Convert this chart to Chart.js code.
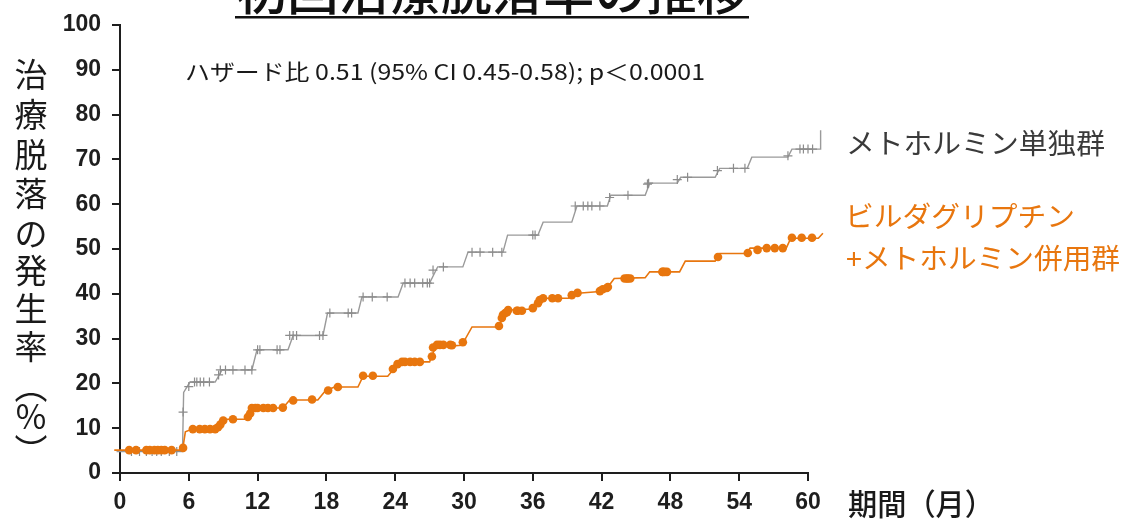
<!DOCTYPE html>
<html lang="ja">
<head>
<meta charset="utf-8">
<script src="https://cdn.jsdelivr.net/npm/chart.js@4.4.1/dist/chart.umd.min.js"></script>
<style>
  html, body { margin: 0; padding: 0; background: #fff; }
  #wrap { width: 1126px; height: 520px; }
</style>
</head>
<body>
<div id="wrap"><canvas id="c" width="1126" height="520"></canvas></div>
<script>
// ---- Kaplan–Meier style curves: cumulative discontinuation (%) by month ----

// メトホルミン単独群: curve outline
const metLineMonths = [-0.3, 5.45, 5.55, 6.1, 8.3, 8.9, 11.5, 11.95, 14.65, 15.1, 17.7, 18.1, 20.75, 21.1,
  24.25, 24.7, 27.0, 27.7, 29.9, 30.35, 33.4, 33.8, 36.45, 36.9, 39.4, 39.85, 42.5, 42.8, 45.8, 46.2,
  48.6, 48.9, 51.9, 52.3, 54.7, 55.1, 58.25, 58.6, 61.1, 61.1];
const metLineRates = [4.8, 4.8, 18, 20.3, 20.3, 23, 23, 27.5, 27.5, 30.7, 30.7, 35.7, 35.7, 39.3,
  39.3, 42.4, 42.4, 46, 46, 49.3, 49.3, 53.1, 53.1, 56, 56, 59.6, 59.6, 62, 62, 64.7,
  64.7, 66, 66, 68, 68, 70.5, 70.5, 72.3, 72.3, 76.5];

// メトホルミン単独群: censoring marks
const metCensorMonths = [1.0, 1.7, 2.3, 2.8, 3.2, 3.6, 4.3, 4.95, 5.5, 6.0, 6.5, 6.7, 7.0, 7.3, 7.8,
  8.6, 8.75, 9.2, 9.85, 10.9, 11.5, 12.0, 12.2, 13.7, 13.95, 14.8, 15.1, 15.4, 17.4, 17.7,
  18.3, 19.9, 20.2, 21.2, 22.0, 23.3, 24.85, 25.3, 25.7, 26.4, 26.8, 27.0, 27.3, 28.2,
  30.7, 31.4, 32.5, 33.3, 36.0, 36.2, 39.7, 40.4, 40.8, 41.15, 41.85, 42.7, 44.3,
  46.0, 46.1, 48.6, 49.5, 52.1, 53.5, 54.5, 58.25, 59.3, 59.6, 60.0, 60.4, 60.8, 60.95];
const metCensorRates = [4.8, 4.8, 4.8, 4.8, 4.8, 4.8, 4.8, 4.8, 13.6, 19.3, 20.3, 20.3, 20.3, 20.3, 20.3,
  21.9, 23, 23, 23, 23, 23, 27.5, 27.5, 27.5, 27.5, 30.7, 30.7, 30.7, 30.7, 30.7,
  35.7, 35.7, 35.7, 39.3, 39.3, 39.3, 42.4, 42.4, 42.4, 42.4, 42.4, 42.4, 45.3, 46,
  49.3, 49.3, 49.3, 49.3, 53.1, 53.1, 59.6, 59.6, 59.6, 59.6, 59.6, 61.5, 62,
  64.5, 64.7, 65.5, 66, 67.5, 68, 68, 70.8, 72.3, 72.3, 72.3, 72.3, 72.3, 72.3];

// ビルダグリプチン+メトホルミン併用群: curve outline
const vildaLineMonths = [-0.5, 5.45, 5.7, 6.3, 8.55, 9.05, 11.15, 11.35, 11.8, 14.2, 14.8, 17.25, 17.9,
  18.7, 20.75, 21.2, 23.35, 23.8, 24.6, 27.0, 27.5, 29.8, 30.7, 32.9, 34.0, 36.0, 36.6, 39.1, 39.4,
  41.85, 42.55, 43.1, 45.8, 46.2, 48.8, 49.3, 51.9, 52.3, 54.7, 54.95, 58.1, 58.5, 60.9, 61.3];
const vildaLineRates = [5.1, 5.1, 9.2, 9.8, 9.8, 12, 12, 12.9, 14.5, 14.5, 16.3, 16.3, 18.3,
  19.2, 19.2, 21.6, 21.6, 23, 24.8, 24.8, 28.1, 28.5, 32.6, 32.6, 36.4, 36.6, 39, 39, 40,
  40.5, 41.5, 43.4, 43.6, 44.9, 44.9, 47.3, 47.3, 49, 49, 50.2, 50.2, 52.4, 52.4, 53.5];

// ビルダグリプチン+メトホルミン併用群: censoring marks
const vildaDotMonths = [-0.5, 0.8, 1.4, 2.3, 2.6, 3.0, 3.3, 3.6, 3.9, 4.5, 5.5,
  6.35, 6.95, 7.4, 7.85, 8.3, 8.55, 8.75, 9.0, 9.85, 11.15, 11.35,
  11.5, 11.8, 12.0, 12.5, 12.9, 13.35, 14.2, 15.1, 16.75, 18.15, 19.0, 21.2, 22.05,
  23.8, 24.2, 24.6, 24.85, 25.3, 25.7, 26.15, 27.2, 27.3, 27.65, 27.9, 28.2, 28.8, 28.95, 29.9,
  33.05, 33.3, 33.4, 33.6, 33.75, 33.85, 34.6, 34.7, 35.05, 36.0, 36.45, 36.6, 36.9, 37.7, 38.2,
  39.4, 39.9, 41.85, 42.1, 42.45, 42.55, 44.0, 44.2, 44.3, 44.5, 47.3, 47.35, 47.5, 47.7,
  52.15, 54.75, 55.6, 56.4, 57.1, 57.8, 58.6, 59.45, 60.35, 60.8];
const vildaDotRates = [5.1, 5.1, 5.1, 5.1, 5.1, 5.1, 5.1, 5.1, 5.1, 5.1, 5.6,
  9.8, 9.8, 9.8, 9.8, 9.8, 10.2, 10.8, 11.7, 12.0, 12.5, 13.3,
  14.5, 14.5, 14.5, 14.5, 14.5, 14.5, 14.6, 16.2, 16.4, 18.4, 19.2, 21.7, 21.7,
  23.2, 24.3, 24.8, 24.8, 24.8, 24.8, 24.8, 26, 28, 28.6, 28.6, 28.6, 28.6, 28.5, 29.2,
  32.8, 34.6, 35.3, 35.7, 35.9, 36.4, 36.2, 36.2, 36.2, 36.8, 37.9, 38.6, 39, 39, 39,
  39.7, 40.2, 40.6, 41, 41.3, 41.5, 43.4, 43.4, 43.4, 43.4, 44.9, 44.9, 44.9, 44.9,
  48.2, 49.1, 49.8, 50.2, 50.2, 50.2, 52.5, 52.5, 52.5, 52.5];

// Axis ticks
const xTickValues = [0, 6, 12, 18, 24, 30, 36, 42, 48, 54, 60];
const yTickValues = [0, 10, 20, 30, 40, 50, 60, 70, 80, 90, 100];

// Text
const titleText = '初回治療脱落率の推移';
const statText = 'ハザード比 0.51 (95% CI 0.45-0.58); p＜0.0001';
const yTitleChars = ['治', '療', '脱', '落', 'の', '発', '生', '率', '︵', '％', '︶'];
const xTitleText = '期間（月）';
const metLabel = 'メトホルミン単独群';
const vildaLabel1 = 'ビルダグリプチン';
const vildaLabel2 = '+メトホルミン併用群';

const ORANGE = '#E8760E';
const GRAY = '#9a9a9a';
const INK = '#1e1e1e';
const JP = "'Noto Sans CJK JP', 'Noto Sans', sans-serif";

const toPoints = (xs, ys) => xs.map((x, i) => ({ x, y: ys[i] }));

// Draw a string and stretch it horizontally to a given width
function fitText(ctx, text, x, y, width, font, color) {
  ctx.save();
  ctx.font = font;
  ctx.fillStyle = color;
  ctx.textAlign = 'left';
  ctx.textBaseline = 'middle';
  const w = ctx.measureText(text).width;
  ctx.translate(x, y);
  if (width) ctx.scale(width / w, 1);
  ctx.fillText(text, 0, 0);
  ctx.restore();
}

const labelsPlugin = {
  id: 'labels',
  afterDraw(chart) {
    const ctx = chart.ctx;
    // title, partly above the top edge, underlined
    ctx.save();
    ctx.font = '500 50px ' + JP;
    ctx.fillStyle = '#111';
    ctx.textBaseline = 'alphabetic';
    const tw = ctx.measureText(titleText).width;
    ctx.translate(236, 10);
    ctx.scale(512 / tw, 1);
    ctx.fillText(titleText, 0, 0);
    ctx.restore();
    ctx.fillStyle = '#111';
    ctx.fillRect(235, 16, 514, 2.5);

    // statistics note
    fitText(ctx, statText, 185, 72, 520, '400 22px ' + JP, '#1a1a1a');

    // vertical y-axis title
    ctx.save();
    ctx.font = '400 33px ' + JP;
    ctx.fillStyle = '#1a1a1a';
    ctx.textAlign = 'center';
    ctx.textBaseline = 'middle';
    const ys = [74, 114, 154, 193, 233, 270, 308, 346, 386, 416, 450];
    yTitleChars.forEach((ch, i) => ctx.fillText(ch, 31, ys[i]));
    ctx.restore();

    // x-axis title
    fitText(ctx, xTitleText, 848, 504, 146, '500 30px ' + JP, '#1a1a1a');

    // series labels
    fitText(ctx, metLabel, 846, 143, 259, '400 28px ' + JP, '#3a3a3a');
    fitText(ctx, vildaLabel1, 845, 216, 230, '400 28px ' + JP, ORANGE);
    fitText(ctx, vildaLabel2, 846, 258, 274, '400 28px ' + JP, ORANGE);
  }
};

const axisFont = { family: "'Liberation Sans Narrow', 'Liberation Sans', Arial, sans-serif", weight: 'bold', size: 23 };

new Chart(document.getElementById('c'), {
  type: 'scatter',
  data: {
    datasets: [
      {
        type: 'scatter', data: toPoints(vildaDotMonths, vildaDotRates),
        pointStyle: 'circle', pointRadius: 4.3, backgroundColor: ORANGE, borderWidth: 0, clip: false
      },
      {
        type: 'line', data: toPoints(vildaLineMonths, vildaLineRates),
        borderColor: ORANGE, borderWidth: 1.6, pointRadius: 0, tension: 0, fill: false, clip: false
      },
      {
        type: 'scatter', data: toPoints(metCensorMonths, metCensorRates),
        pointStyle: 'cross', pointRadius: 4.5, borderColor: '#8c8c8c', borderWidth: 1.2, clip: false
      },
      {
        type: 'line', data: toPoints(metLineMonths, metLineRates),
        borderColor: GRAY, borderWidth: 1.4, pointRadius: 0, tension: 0, fill: false, clip: false
      }
    ]
  },
  options: {
    responsive: false,
    animation: false,
    events: [],
    layout: { padding: { left: 0, right: 318, top: 25, bottom: 0 } },
    plugins: { legend: { display: false }, tooltip: { enabled: false } },
    scales: {
      x: {
        type: 'linear', bounds: 'data',
        // range fixed here so that follow-up past 60 months is still drawn
        afterDataLimits(s) { s.min = 0; s.max = 60; },
        afterFit(s) { s.height = 47; },
        afterBuildTicks(s) { s.ticks = xTickValues.map(v => ({ value: v })); },
        ticks: { padding: 8, font: axisFont, color: INK },
        grid: { drawOnChartArea: false, drawTicks: true, tickLength: 8, color: INK, lineWidth: 2 },
        border: { display: true, color: INK, width: 2 }
      },
      y: {
        type: 'linear', bounds: 'data',
        afterDataLimits(s) { s.min = 0; s.max = 100; },
        afterFit(s) { s.width = 120; },
        afterBuildTicks(s) { s.ticks = yTickValues.map(v => ({ value: v })); },
        ticks: { padding: 11, font: axisFont, color: INK },
        grid: { drawOnChartArea: false, drawTicks: true, tickLength: 8, color: INK, lineWidth: 2 },
        border: { display: true, color: INK, width: 2 }
      }
    }
  },
  plugins: [labelsPlugin]
});
</script>
</body>
</html>
